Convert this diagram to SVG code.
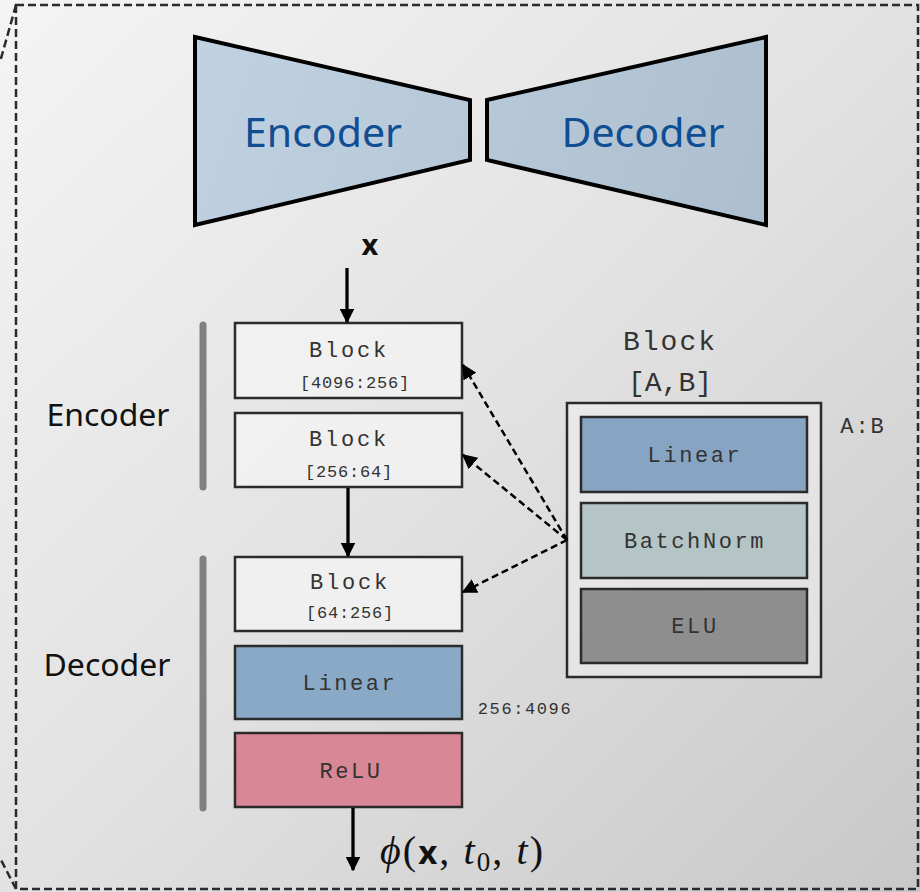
<svg xmlns="http://www.w3.org/2000/svg" width="920" height="892" viewBox="0 0 920 892">
<defs>
<linearGradient id="bg" x1="0" y1="0" x2="1" y2="1">
<stop offset="0" stop-color="#f4f4f4"/>
<stop offset="0.5" stop-color="#e2e2e2"/>
<stop offset="1" stop-color="#c8c8c8"/>
</linearGradient>
<linearGradient id="trap" gradientUnits="userSpaceOnUse" x1="195" y1="37" x2="766" y2="225">
<stop offset="0" stop-color="#c0d2e2"/>
<stop offset="1" stop-color="#adbfcf"/>
</linearGradient>
<marker id="ah" viewBox="0 0 10 10" refX="9" refY="5" markerWidth="4.5" markerHeight="4.5" orient="auto" markerUnits="strokeWidth">
<path d="M0,0 L10,5 L0,10 z" fill="#000"/>
</marker>
<marker id="ahd" viewBox="0 0 10 10" refX="9" refY="5" markerWidth="6" markerHeight="6" orient="auto" markerUnits="strokeWidth">
<path d="M0,0 L10,5 L0,10 z" fill="#000"/>
</marker>
</defs>
<style>
.mono{font-family:"Liberation Mono","DejaVu Sans Mono",monospace;fill:#333;text-anchor:middle}
.hd{font-size:22px;letter-spacing:2.8px}
.nm{font-size:22px;letter-spacing:2.6px}
.sub{font-size:17px;letter-spacing:0.8px}
.box{stroke:#2b2b2b;stroke-width:2.5}
.lbl{font-family:"Noto Sans","Open Sans",sans-serif;fill:#111;text-anchor:middle}
.big{font-family:"Noto Sans","Open Sans",sans-serif;fill:#104d92;text-anchor:middle}
.bar{stroke:#808080;stroke-width:7;stroke-linecap:round}
.solid{stroke:#000;stroke-width:3.3;fill:none}
.dash{stroke:#000;stroke-width:2.5;stroke-dasharray:7 4;fill:none}
</style>
<rect x="0" y="0" width="920" height="892" fill="url(#bg)"/>
<g id="frame" fill="none" stroke="#2a2a30" stroke-width="2.5" stroke-dasharray="8 4">
<path d="M16,5 L918,5 L918,889 L16,889 Z"/>
<path d="M16,5 L0,62"/>
<path d="M16,889 L0,858"/>
</g>
<g id="encoder-shape">
<polygon points="195,37 470,100 470,160 195,225" fill="url(#trap)" stroke="#000" stroke-width="4" stroke-linejoin="miter"/>
<text class="big" x="323" y="147" font-size="40" textLength="158" lengthAdjust="spacingAndGlyphs">Encoder</text>
</g>
<g id="decoder-shape">
<polygon points="487,100 766,37 766,225 487,160" fill="url(#trap)" stroke="#000" stroke-width="4" stroke-linejoin="miter"/>
<text class="big" x="643" y="147" font-size="40" textLength="163" lengthAdjust="spacingAndGlyphs">Decoder</text>
</g>
<g id="input-x">
<text x="370" y="255" font-family="Noto Sans, sans-serif" font-weight="bold" font-size="29" text-anchor="middle" fill="#111">x</text>
</g>
<g id="encoder-label">
<line class="bar" x1="203" y1="325" x2="203" y2="487"/>
<text class="lbl" x="108" y="426" font-size="30" textLength="123" lengthAdjust="spacingAndGlyphs">Encoder</text>
</g>
<g id="decoder-label">
<line class="bar" x1="203" y1="559" x2="203" y2="808"/>
<text class="lbl" x="107" y="676" font-size="30" textLength="127" lengthAdjust="spacingAndGlyphs">Decoder</text>
</g>
<g id="block1">
<rect class="box" x="235" y="323" width="227" height="75" fill="#f2f2f2" fill-opacity="0.85"/>
<text class="mono hd" x="349" y="357">Block</text>
<text class="mono sub" x="355" y="388">[4096:256]</text>
</g>
<g id="block2">
<rect class="box" x="235" y="413" width="227" height="74" fill="#f2f2f2" fill-opacity="0.85"/>
<text class="mono hd" x="349" y="446">Block</text>
<text class="mono sub" x="349" y="477">[256:64]</text>
</g>
<g id="block3">
<rect class="box" x="235" y="557" width="227" height="74" fill="#f2f2f2" fill-opacity="0.85"/>
<text class="mono hd" x="350" y="589">Block</text>
<text class="mono sub" x="350" y="618">[64:256]</text>
</g>
<g id="linear-out">
<rect class="box" x="235" y="646" width="227" height="73" fill="#8aa9c6"/>
<text class="mono nm" x="350" y="690">Linear</text>
<text class="mono sub" x="525" y="714" style="letter-spacing:1.6px">256:4096</text>
</g>
<g id="relu">
<rect class="box" x="235" y="733" width="227" height="74" fill="#d88797"/>
<text class="mono nm" x="351" y="778">ReLU</text>
</g>
<g id="block-detail">
<text class="mono" x="670" y="350" font-size="28" style="letter-spacing:2px">Block</text>
<text class="mono" x="670" y="391" font-size="28" style="letter-spacing:0px">[A,B]</text>
<rect class="box" x="567" y="403" width="254" height="274" fill="#f2f2f2" fill-opacity="0.5"/>
<text class="mono" x="863" y="433" font-size="22" style="letter-spacing:2px">A:B</text>
</g>
<g id="detail-linear">
<rect class="box" x="581" y="417" width="226" height="75" fill="#87a5c3"/>
<text class="mono nm" x="695" y="462">Linear</text>
</g>
<g id="detail-batchnorm">
<rect class="box" x="581" y="503" width="226" height="75" fill="#b5c4c5"/>
<text class="mono nm" x="695" y="548">BatchNorm</text>
</g>
<g id="detail-elu">
<rect class="box" x="581" y="589" width="226" height="74" fill="#8e8e8e"/>
<text class="mono nm" x="695" y="633">ELU</text>
</g>
<g id="output-label">
<text x="380" y="864" font-family="Liberation Serif, DejaVu Serif, serif" font-size="40" fill="#111" textLength="163" lengthAdjust="spacing"><tspan font-style="italic">ϕ</tspan><tspan>(</tspan><tspan font-family="Noto Sans, sans-serif" font-weight="bold" font-size="33">x</tspan><tspan>, </tspan><tspan font-style="italic">t</tspan><tspan font-size="27" dy="7">0</tspan><tspan dy="-7">, </tspan><tspan font-style="italic">t</tspan><tspan>)</tspan></text>
</g>
<g id="connectors">
<line class="solid" x1="347" y1="268" x2="347" y2="322" marker-end="url(#ah)"/>
<line class="solid" x1="348" y1="488" x2="348" y2="556" marker-end="url(#ah)"/>
<line class="solid" x1="353" y1="808" x2="353" y2="870" marker-end="url(#ah)"/>
<line class="dash" x1="567" y1="540" x2="463" y2="365" marker-end="url(#ahd)"/>
<line class="dash" x1="567" y1="540" x2="463" y2="455" marker-end="url(#ahd)"/>
<line class="dash" x1="567" y1="540" x2="463" y2="592" marker-end="url(#ahd)"/>
</g>
</svg>
